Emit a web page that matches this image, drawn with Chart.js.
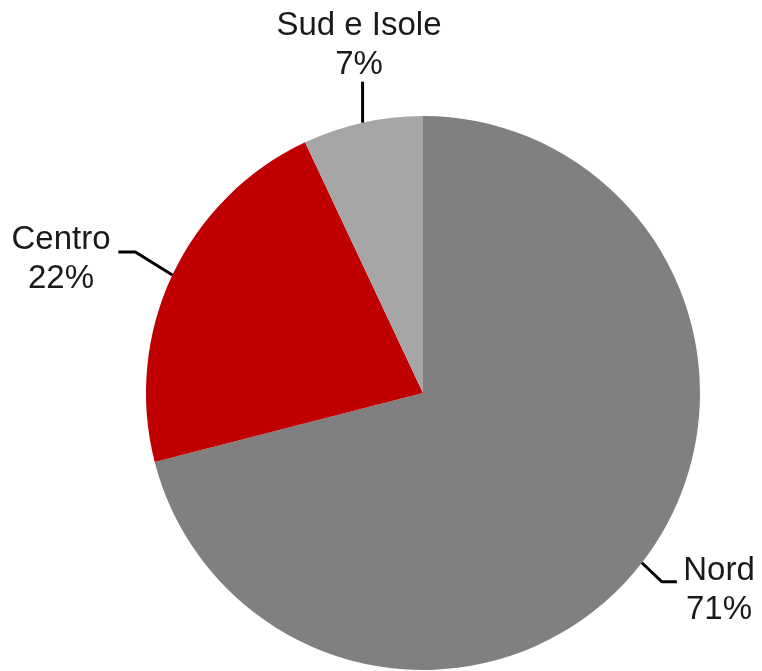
<!DOCTYPE html>
<html lang="it">
<head>
<meta charset="utf-8">
<title>Ripartizione per area</title>
<script src="https://cdn.jsdelivr.net/npm/chart.js"></script>
<style>
  html, body { margin: 0; padding: 0; background: #fff; }
  #wrap { width: 762px; height: 671px; position: relative; }
</style>
</head>
<body>
<div id="wrap">
  <canvas id="torta"></canvas>
</div>
<script>
  // aree geografiche e quote (%)
  const aree = ['Nord', 'Centro', 'Sud e Isole'];
  const quote = [71, 22, 7];
  const colori = ['#808080', '#c00000', '#a6a6a6'];

  // etichette esterne: dove va il testo e come piega la linea guida
  const guide = [
    { elbow: [20, 19], end: [35, 19], text: [719, 580] },      // Nord
    { elbow: [-37, -23], end: [-54, -23], text: [61, 249] },   // Centro
    { elbow: null, end: [0, -41], text: [359, 35] }            // Sud e Isole
  ];

  const etichette = {
    id: 'etichette',
    afterDatasetsDraw(chart) {
      const ctx = chart.ctx;
      const archi = chart.getDatasetMeta(0).data;
      ctx.save();
      archi.forEach((arc, i) => {
        const p = arc.getProps(['x', 'y', 'startAngle', 'endAngle', 'outerRadius'], true);
        const mid = (p.startAngle + p.endAngle) / 2;
        const sx = p.x + Math.cos(mid) * p.outerRadius;
        const sy = p.y + Math.sin(mid) * p.outerRadius;
        const g = guide[i];

        ctx.strokeStyle = '#000';
        ctx.lineWidth = 3;
        ctx.lineJoin = 'miter';
        ctx.beginPath();
        ctx.moveTo(sx, sy);
        if (g.elbow) ctx.lineTo(sx + g.elbow[0], sy + g.elbow[1]);
        ctx.lineTo(sx + g.end[0], sy + g.end[1]);
        ctx.stroke();

        ctx.fillStyle = '#1a1a1a';
        ctx.font = '33px "Liberation Sans", Arial, sans-serif';
        ctx.textAlign = 'center';
        ctx.textBaseline = 'alphabetic';
        ctx.fillText(aree[i], g.text[0], g.text[1]);
        ctx.fillText(quote[i] + '%', g.text[0], g.text[1] + 39);
      });
      ctx.restore();
    }
  };

  new Chart(document.getElementById('torta'), {
    type: 'pie',
    data: {
      labels: aree,
      datasets: [{
        data: quote,
        backgroundColor: colori,
        borderWidth: 0
      }]
    },
    options: {
      responsive: true,
      maintainAspectRatio: false,
      animation: false,
      layout: { padding: { left: 146, right: 62, top: 116, bottom: 1 } },
      plugins: {
        legend: { display: false },
        tooltip: { enabled: false }
      }
    },
    plugins: [etichette]
  });
</script>
</body>
</html>
